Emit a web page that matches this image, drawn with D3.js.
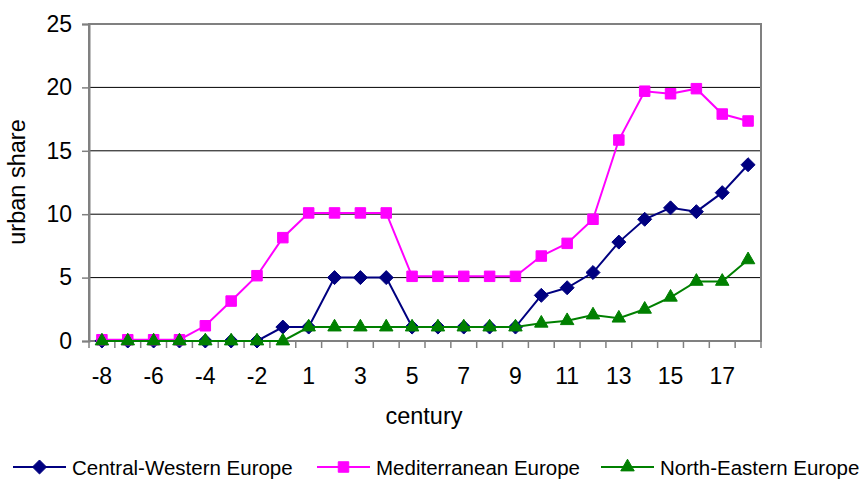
<!DOCTYPE html>
<html>
<head>
<meta charset="utf-8">
<script src="https://cdn.jsdelivr.net/npm/d3@7"></script>
<style>
  body { margin: 0; background: #fff; }
  text { font-family: "Liberation Sans", Arial, sans-serif; fill: #000; }
</style>
</head>
<body>
<div id="chart"></div>
<script>
// Data
var centuries = ["-8","-7","-6","-5","-4","-3","-2","-1","1","2","3","4","5","6","7","8","9","10","11","12","13","14","15","16","17","18"];
var centralWestern = [0,0,0,0,0,0,0,1.1,1.1,5.0,5.0,5.0,1.1,1.1,1.1,1.1,1.1,3.6,4.2,5.4,7.8,9.6,10.5,10.2,11.7,13.9];
var mediterranean = [0.1,0.1,0.1,0.1,1.2,3.15,5.15,8.15,10.1,10.1,10.1,10.1,5.1,5.1,5.1,5.1,5.1,6.7,7.7,9.6,15.85,19.7,19.5,19.9,17.9,17.35];
var northEastern = [0,0,0,0,0,0,0,0,1.1,1.1,1.1,1.1,1.1,1.1,1.1,1.1,1.1,1.4,1.6,2.05,1.8,2.5,3.45,4.7,4.7,6.4];
var yTicks = [0,5,10,15,20,25];
var xLabels = ["-8","-6","-4","-2","1","3","5","7","9","11","13","15","17"];

var seriesList = [
  {name: "Central-Western Europe", values: centralWestern, color: "#000080", symbol: d3.symbolDiamond2, size: 125},
  {name: "Mediterranean Europe", values: mediterranean, color: "#FF00FF", symbol: d3.symbolSquare2, size: 140},
  {name: "North-Eastern Europe", values: northEastern, color: "#008000", symbol: d3.symbolTriangle2, size: 130}
];

var width = 864, height = 482;
var plotLeft = 89, plotRight = 761, plotTop = 24, plotBottom = 341;

var svg = d3.select("#chart").append("svg")
  .attr("width", width)
  .attr("height", height);

var x = d3.scaleBand().domain(centuries).range([plotLeft, plotRight]);
var y = d3.scaleLinear().domain([0, 25]).range([plotBottom, plotTop]);

// gridlines
svg.append("g")
  .selectAll("line")
  .data(yTicks.filter(d => d > 0 && d < 25))
  .enter().append("line")
  .attr("x1", plotLeft).attr("x2", plotRight)
  .attr("y1", d => y(d)).attr("y2", d => y(d))
  .attr("stroke", "#000").attr("stroke-width", 1);

// plot border
svg.append("rect")
  .attr("x", plotLeft).attr("y", plotTop)
  .attr("width", plotRight - plotLeft).attr("height", plotBottom - plotTop)
  .attr("fill", "none").attr("stroke", "#808080").attr("stroke-width", 2);

// y axis
var yAxis = d3.axisLeft(y).tickValues(yTicks).tickSize(7).tickPadding(10);
var gy = svg.append("g").attr("transform", "translate(" + plotLeft + ",0)").call(yAxis);
gy.select(".domain").attr("stroke", "#808080").attr("stroke-width", 2);
gy.selectAll(".tick line").attr("stroke", "#808080").attr("stroke-width", 1.5);
gy.selectAll(".tick text").style("font-size", "23px").attr("fill", "#000");

// x axis: ticks at category boundaries
var gx = svg.append("g").attr("transform", "translate(0," + plotBottom + ")");
gx.append("line").attr("x1", plotLeft).attr("x2", plotRight)
  .attr("stroke", "#808080").attr("stroke-width", 2);
gx.selectAll(".tk")
  .data(centuries.concat(["end"]))
  .enter().append("line")
  .attr("x1", (d, i) => plotLeft + i * x.step())
  .attr("x2", (d, i) => plotLeft + i * x.step())
  .attr("y1", 0).attr("y2", 7)
  .attr("stroke", "#808080").attr("stroke-width", 1.5);
gx.selectAll(".lbl")
  .data(xLabels)
  .enter().append("text")
  .attr("x", d => x(d) + x.bandwidth() / 2)
  .attr("y", 43)
  .attr("text-anchor", "middle")
  .style("font-size", "23px")
  .text(d => d);

// axis titles
svg.append("text")
  .attr("x", 424).attr("y", 424)
  .attr("text-anchor", "middle")
  .style("font-size", "23.5px")
  .text("century");
svg.append("text")
  .attr("transform", "translate(25,182) rotate(-90)")
  .attr("text-anchor", "middle")
  .style("font-size", "23.5px")
  .text("urban share");

// lines and markers
var line = d3.line()
  .x((d, i) => x(centuries[i]) + x.bandwidth() / 2)
  .y(d => y(d));

seriesList.forEach(function(s) {
  svg.append("path")
    .datum(s.values)
    .attr("d", line)
    .attr("fill", "none")
    .attr("stroke", s.color)
    .attr("stroke-width", 2);
  svg.append("g")
    .selectAll("path")
    .data(s.values)
    .enter().append("path")
    .attr("transform", (d, i) => "translate(" + (x(centuries[i]) + x.bandwidth() / 2) + "," + y(d) + ")")
    .attr("d", d3.symbol().type(s.symbol).size(s.size))
    .attr("fill", s.color)
    .attr("stroke", s.color)
    .attr("stroke-width", 1)
    .attr("stroke-linejoin", "miter");
});

// legend
var legendX = [13, 317, 601];
var legend = svg.append("g");
seriesList.forEach(function(s, i) {
  var g = legend.append("g").attr("transform", "translate(" + legendX[i] + ",467)");
  g.append("line").attr("x1", 0).attr("x2", 53).attr("y1", 0).attr("y2", 0)
    .attr("stroke", s.color).attr("stroke-width", 2);
  g.append("path")
    .attr("transform", "translate(26.5,0)")
    .attr("d", d3.symbol().type(s.symbol).size(s.size))
    .attr("fill", s.color)
    .attr("stroke", s.color)
    .attr("stroke-width", 1);
  g.append("text")
    .attr("x", 59).attr("y", 8)
    .style("font-size", "20.5px")
    .text(s.name);
});
</script>
</body>
</html>
